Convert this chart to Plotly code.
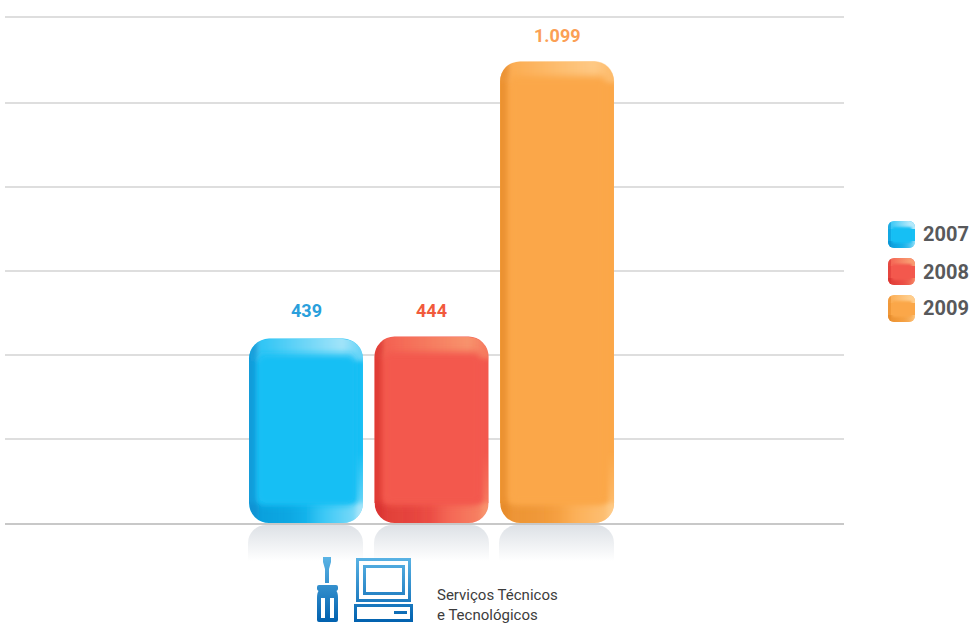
import base64
import plotly.graph_objects as go

category = ["Serviços Técnicos<br>e Tecnológicos"]
years = ["2007", "2008", "2009"]
values = [439, 444, 1099]
value_labels = ["439", "444", "1.099"]
bar_colors = ["#19BFF4", "#F3584D", "#FBA748"]
text_colors = ["#2A9FDC", "#F15A3C", "#FB9F55"]
edge_dark = ["#0A8FD0", "#D8322F", "#E58A2A"]
highlight = ["#C4EDFB", "#F9A274", "#FFD295"]
grid_values = [200, 400, 600, 800, 1000, 1204]
label_shift = [28, 26, 26]

W, H = 975, 623
BASE = 523
PX_PER_UNIT = 0.42
BAR_LEFT = [249, 374.6, 500.2]
BAR_W = 114
PAD = 2
GROUP_STEP = 0.251


def uri(svg):
    return "data:image/svg+xml;base64," + base64.b64encode(svg.encode()).decode()


def px_image(svg, x, y, w, h, layer="above"):
    return dict(source=uri(svg), xref="paper", yref="paper", x=x / W, y=1 - y / H,
                sizex=w / W, sizey=h / H, xanchor="left", yanchor="top",
                sizing="stretch", layer=layer)


def bar_overlay(h, dark, fill, hi):
    w, r = BAR_W, 20
    return f'''<svg xmlns="http://www.w3.org/2000/svg" width="{w+2*PAD}" height="{h}" viewBox="{-PAD} 0 {w+2*PAD} {h}">
<defs>
<filter id="f" x="-20%" y="-20%" width="140%" height="140%"><feGaussianBlur stdDeviation="3.5"/></filter>
<filter id="s" x="-20%" y="-20%" width="140%" height="140%"><feGaussianBlur stdDeviation="2"/></filter>
<linearGradient id="t" x1="0" x2="1" y1="0" y2="0"><stop offset="0" stop-color="{hi}" stop-opacity="0"/><stop offset=".8" stop-color="{hi}" stop-opacity=".8"/><stop offset="1" stop-color="{hi}" stop-opacity=".35"/></linearGradient>
<linearGradient id="bd" x1="0" x2="1" y1="0" y2="0"><stop offset="0" stop-color="{dark}" stop-opacity=".7"/><stop offset=".35" stop-color="{dark}" stop-opacity=".5"/><stop offset=".65" stop-color="{dark}" stop-opacity="0"/></linearGradient>
<linearGradient id="bh" x1="0" x2="1" y1="0" y2="0"><stop offset=".5" stop-color="{hi}" stop-opacity="0"/><stop offset="1" stop-color="{hi}" stop-opacity=".7"/></linearGradient>
<linearGradient id="rs" x1="0" x2="0" y1="0" y2="1"><stop offset="0" stop-color="{hi}" stop-opacity="0"/><stop offset="1" stop-color="{hi}" stop-opacity=".7"/></linearGradient>
<clipPath id="c"><rect x="0" y="0" width="{w}" height="{h}" rx="{r}" ry="{r}"/></clipPath>
</defs>
<g clip-path="url(#c)">
<g filter="url(#s)">
<rect x="-4" y="-4" width="13" height="{h+8}" fill="{dark}" fill-opacity=".75"/>
<rect x="{w-7}" y="{max(h-70,0)}" width="11" height="{min(70,h)+4}" fill="url(#rs)"/>
<rect x="-4" y="-4" width="{w+8}" height="26" fill="url(#t)"/>
<rect x="-4" y="{h-20}" width="{w+8}" height="24" fill="url(#bd)"/>
<rect x="-4" y="{h-20}" width="{w+8}" height="24" fill="url(#bh)"/>
</g>
<rect x="8" y="15" width="{w-15}" height="{h-33}" rx="8" fill="{fill}" filter="url(#f)"/>
</g>
<path d="M{-PAD} {h-r} V{h} H{w+PAD} V{h-r} H{w} A{r} {r} 0 0 1 {w-r} {h} H{r} A{r} {r} 0 0 1 0 {h-r}Z" fill="#fff"/>
</svg>'''


REFLECTION = f'''<svg xmlns="http://www.w3.org/2000/svg" width="{BAR_W}" height="36" viewBox="0 0 {BAR_W} 36">
<defs><linearGradient id="g" x1="0" x2="0" y1="0" y2="1"><stop offset="0" stop-color="#DDE1E6"/><stop offset="1" stop-color="#fff"/></linearGradient></defs>
<path d="M0 36 V18 A18 18 0 0 1 18 0 H{BAR_W-18} A18 18 0 0 1 {BAR_W} 18 V36Z" fill="url(#g)"/></svg>'''

SWATCH = '''<svg xmlns="http://www.w3.org/2000/svg" width="27" height="27" viewBox="0 0 27 27">
<defs><clipPath id="c"><rect width="27" height="27" rx="6"/></clipPath>
<filter id="f"><feGaussianBlur stdDeviation="1.2"/></filter>
<linearGradient id="t" x1="0" x2="1" y1="0" y2="0"><stop offset="0" stop-color="{hi}" stop-opacity=".1"/><stop offset=".8" stop-color="{hi}" stop-opacity=".9"/></linearGradient>
<linearGradient id="b" x1="0" x2="1" y1="0" y2="0"><stop offset="0" stop-color="{dark}" stop-opacity=".8"/><stop offset=".5" stop-color="{dark}" stop-opacity=".3"/><stop offset="1" stop-color="{hi}" stop-opacity=".7"/></linearGradient></defs>
<g clip-path="url(#c)"><rect width="27" height="27" fill="{fill}"/><rect width="27" height="8" fill="url(#t)"/><rect y="20" width="27" height="7" fill="url(#b)"/>
<rect width="3" height="27" fill="{dark}" fill-opacity=".5"/>
<rect x="4" y="6" width="20" height="16" rx="2" fill="{fill}" filter="url(#f)"/></g></svg>'''

ICONS = '''<svg xmlns="http://www.w3.org/2000/svg" width="100" height="66" viewBox="0 0 100 66">
<defs><linearGradient id="g" gradientUnits="userSpaceOnUse" x1="0" x2="0" y1="0" y2="66"><stop offset="0" stop-color="#5BB4E5"/><stop offset="1" stop-color="#0060AE"/></linearGradient></defs>
<g fill="url(#g)" fill-rule="evenodd">
<path d="M7 0 H15 V5 L13 12 V26 H9 V12 L7 5Z"/>
<path d="M3 28 H20 Q22 28 22 30 V32 Q22 33 20.500 34 Q22 36 22 41 V63 Q22 65 20 65 H3 Q1 65 1 63 V41 Q1 36 2.500 34 Q1 33 1 32 V30 Q1 28 3 28Z M5 41 V61 H9 V41Z M14 41 V61 H18 V41Z"/>
<path d="M40 1 H95 V45 H40Z M43 4 V42 H92 V4Z"/>
<path d="M47 8 H89 V38 H47Z M50 11 V35 H86 V11Z"/>
<path d="M38 47 H97 V65 H38Z M41 50 V62 H94 V50Z"/>
<rect x="78" y="54" width="13" height="3"/>
</g></svg>'''

images = []
for i, v in enumerate(values):
    h = round(v * PX_PER_UNIT)
    images.append(px_image(bar_overlay(h, edge_dark[i], bar_colors[i], highlight[i]),
                           BAR_LEFT[i] - PAD, BASE - h, BAR_W + 2 * PAD, h))
    images.append(px_image(REFLECTION, round(BAR_LEFT[i]) - 1, 525, BAR_W + 1, 36, "below"))
    images.append(px_image(SWATCH.format(fill=bar_colors[i], dark=edge_dark[i], hi=highlight[i]),
                           888, 221 + i * 37, 27, 27))
images.append(px_image(ICONS, 316, 557, 100, 66))

fig = go.Figure()
for i, y in enumerate(years):
    fig.add_bar(name=y, x=[0], y=[values[i]],
                marker=dict(color=bar_colors[i], line=dict(width=0)))

annotations = [
    dict(text=value_labels[i], x=(i - 1) * GROUP_STEP, y=values[i], xref="x", yref="y",
         xanchor="center", yanchor="middle", yshift=label_shift[i], showarrow=False,
         font=dict(color=text_colors[i], size=18, family="Roboto", weight=700))
    for i in range(3)
]
annotations += [
    dict(text=y, xref="paper", yref="paper", x=921 / W, y=1 - (234.5 + i * 37) / H,
         xanchor="left", yanchor="middle", showarrow=False,
         font=dict(size=20, family="Roboto", weight=700, color="#58595B"))
    for i, y in enumerate(years)
]
annotations.append(dict(text=category[0], xref="paper", yref="paper", x=435 / W, y=1 - 605 / H,
                        xanchor="left", yanchor="middle", align="left", showarrow=False,
                        font=dict(size=15, family="Roboto", color="#3C3C3C")))

fig.update_layout(
    width=W, height=H, autosize=False,
    margin=dict(l=0, r=0, t=0, b=0),
    paper_bgcolor="white", plot_bgcolor="rgba(0,0,0,0)",
    barmode="group", bargap=0.247, bargroupgap=0.092, barcornerradius=20,
    showlegend=False, images=images, annotations=annotations,
    xaxis=dict(domain=[5 / W, 844 / W], range=[-0.853, 0.825], type="linear",
               showgrid=False, zeroline=False, showticklabels=False, ticks="", showline=False),
    yaxis=dict(domain=[0, 1], range=[-(H - BASE) / PX_PER_UNIT, BASE / PX_PER_UNIT],
               tickmode="array", tickvals=grid_values, showticklabels=False, ticks="",
               showgrid=True, gridcolor="#DEDEDE", gridwidth=2,
               zeroline=False, showline=False),
    shapes=[dict(type="line", xref="x domain", x0=0, x1=1, yref="y", y0=-2.4, y1=-2.4,
                 line=dict(color="#C8C8C8", width=2), layer="above")],
)
fig.write_html("out.html", config={"displayModeBar": False},
               post_script="document.body.style.margin='0';document.body.style.overflow='hidden';")
